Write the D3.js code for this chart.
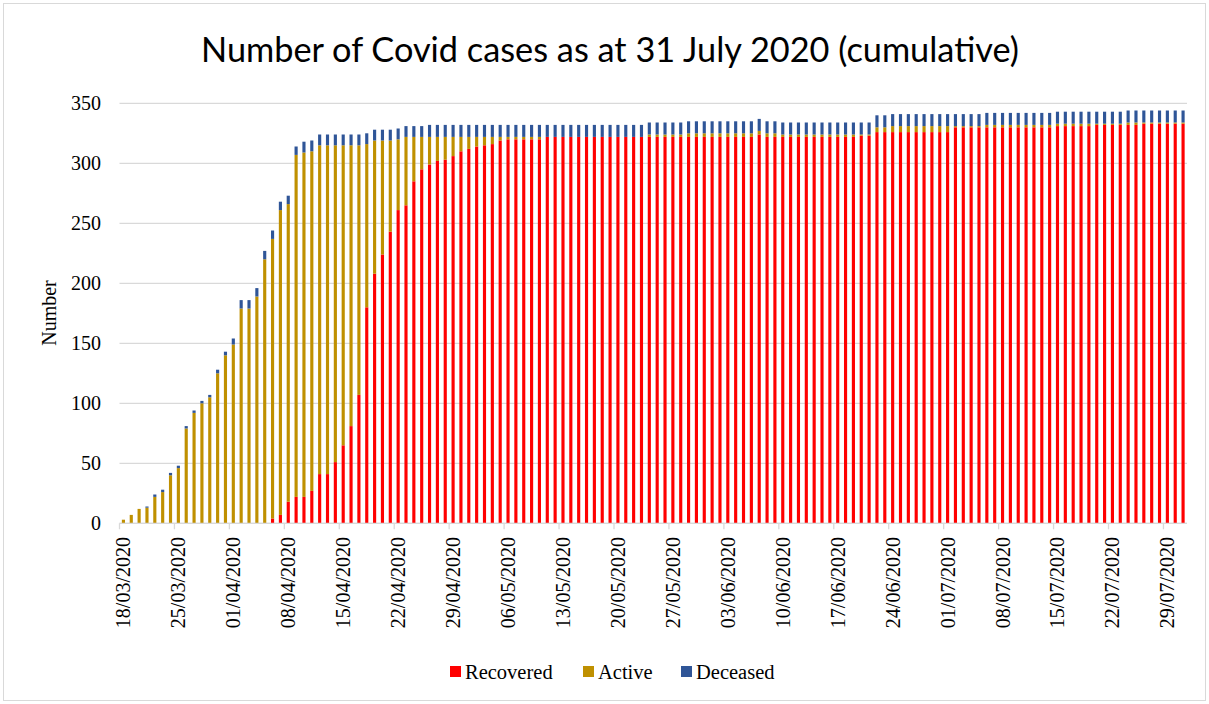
<!DOCTYPE html>
<html>
<head>
<meta charset="utf-8">
<script src="https://cdn.jsdelivr.net/npm/d3@7"></script>
<style>
body { margin: 0; background: #fff; }
svg text { font-family: "Liberation Serif", "Times New Roman", serif; fill: #000; }
</style>
</head>
<body>
<div id="chart"></div>
<script>
// categories: one bar per day, 18/03/2020 .. 31/07/2020
const days = d3.timeDay.range(new Date(2020, 2, 18), new Date(2020, 7, 1));

// series values (cumulative)
const recovered = [
  0,0,0,0,0,0,0,0,0,0,0,0,0,0,0,0,0,0,0,
  4,7,18,22,22,27,41,41,51,65,81,107,180,208,224,243,261,265,285,295,
  299,302,303,306,310,312,314,315,316,319,
  320,320,320,320,320,
  322,322,322,322,322,322,322,322,322,322,322,322,322,322,322,322,322,322,322,322,322,322,322,322,322,322,322,
  324,
  322,322,322,322,322,322,322,322,322,322,322,322,
  323,323,
  326,326,326,326,326,326,326,326,326,326,
  330,330,330,330,330,330,330,330,330,330,330,330,330,
  331,331,331,331,331,
  332,332,332,332,332,332,
  333,333,333,333,333,333
];
const active = [
  3,7,12,13,22,26,40,46,79,92,100,105,125,140,149,179,179,189,220,
  233,254,248,285,287,283,274,274,264,250,234,208,136,111,95,76,59,57,37,27,
  23,20,19,16,12,10,8,7,6,3,
  2,2,2,2,2,
  0,0,0,0,0,0,0,0,0,0,0,0,0,
  2,2,2,2,2,
  3,3,3,3,3,3,3,3,3,
  3,
  3,3,
  2,2,2,2,2,2,2,2,2,2,
  1,1,
  4,4,
  5,5,5,5,5,5,5,5,
  1,1,1,1,
  2,2,2,2,2,2,2,2,2,
  2,2,2,2,2,
  1,1,1,1,
  2,2,
  1,1,1,1,1,1
];
const deceased = [
  0,0,0,1,2,2,2,2,2,2,2,2,3,3,5,7,7,7,7,7,7,7,7,
  9,9,9,9,9,9,9,9,9,9,9,9,9,9,9,9,
  10,10,10,10,10,10,10,10,10,10,10,10,10,10,10,10,10,10,10,10,10,10,10,10,10,10,10,10,10,10,10,
  10,10,10,10,10,10,10,10,10,10,10,10,10,10,10,10,10,10,10,10,10,10,10,10,10,10,10,10,10,10,10,
  10,10,10,10,10,10,10,10,10,10,10,10,10,10,10,10,10,10,10,10,10,10,10,10,10,10,10,10,10,10,10,
  10,10,10,10
];

const yTicks = [0, 50, 100, 150, 200, 250, 300, 350];
const seriesNames = ["Recovered", "Active", "Deceased"];
const seriesColors = ["#ff0000", "#bf9000", "#2f5597"];

const width = 1209, height = 704;
const plotLeft = 119.5, plotRight = 1187, plotTop = 103.3, plotBottom = 523.3;

const svg = d3.select("#chart").append("svg")
  .attr("width", width)
  .attr("height", height);

// chart area border
svg.append("rect")
  .attr("x", 3.5).attr("y", 3.5)
  .attr("width", width - 7).attr("height", height - 7)
  .attr("fill", "#fff")
  .attr("stroke", "#d9d9d9");

svg.append("text")
  .attr("x", 610).attr("y", 62)
  .attr("text-anchor", "middle")
  .attr("textLength", 818)
  .attr("lengthAdjust", "spacingAndGlyphs")
  .style("font-family", "'Liberation Sans Narrow', Lato, sans-serif")
  .style("font-size", "34px")
  .text("Number of Covid cases as at 31 July 2020 (cumulative)");

const rows = days.map((d, i) => ({
  date: d,
  Recovered: recovered[i],
  Active: active[i],
  Deceased: deceased[i]
}));

const x = d3.scaleBand()
  .domain(days.map(d => +d))
  .range([plotLeft, plotRight])
  .paddingInner(0.6)
  .paddingOuter(0.3);

const y = d3.scaleLinear().domain([0, 350]).range([plotBottom, plotTop]);

// gridlines
svg.append("g")
  .selectAll("line")
  .data(yTicks)
  .enter().append("line")
  .attr("x1", plotLeft).attr("x2", plotRight)
  .attr("y1", d => y(d)).attr("y2", d => y(d))
  .attr("stroke", "#d9d9d9")
  .attr("stroke-width", 1.3);

// y tick labels
svg.append("g")
  .selectAll("text")
  .data(yTicks)
  .enter().append("text")
  .attr("x", 101)
  .attr("y", d => y(d))
  .attr("dy", "0.35em")
  .attr("text-anchor", "end")
  .style("font-size", "20px")
  .text(d => d);

svg.append("text")
  .attr("transform", "translate(56,313) rotate(-90)")
  .attr("text-anchor", "middle")
  .style("font-size", "20px")
  .text("Number");

// stacked bars
const stack = d3.stack().keys(seriesNames)(rows);
const color = d3.scaleOrdinal().domain(seriesNames).range(seriesColors);

svg.append("g")
  .selectAll("g")
  .data(stack)
  .enter().append("g")
  .attr("fill", d => color(d.key))
  .selectAll("rect")
  .data(d => d)
  .enter().append("rect")
  .attr("x", d => x(+d.data.date))
  .attr("width", x.bandwidth())
  .attr("y", d => y(d[1]))
  .attr("height", d => y(d[0]) - y(d[1]));

// x axis line + tick marks between categories, every 7 days
svg.append("line")
  .attr("x1", plotLeft).attr("x2", plotRight)
  .attr("y1", plotBottom).attr("y2", plotBottom)
  .attr("stroke", "#d9d9d9")
  .attr("stroke-width", 1.3);

const weekly = days.filter((d, i) => i % 7 === 0);
const step = x.step();

svg.append("g")
  .selectAll("line")
  .data(weekly)
  .enter().append("line")
  .attr("x1", d => x(+d) + x.bandwidth() / 2 - step / 2)
  .attr("x2", d => x(+d) + x.bandwidth() / 2 - step / 2)
  .attr("y1", plotBottom).attr("y2", plotBottom + 6)
  .attr("stroke", "#d9d9d9")
  .attr("stroke-width", 1.3);

const fmt = d3.timeFormat("%d/%m/%Y");
svg.append("g")
  .selectAll("text")
  .data(weekly)
  .enter().append("text")
  .attr("transform", d => `translate(${x(+d) + x.bandwidth() / 2},537) rotate(-90)`)
  .attr("dy", "0.35em")
  .attr("text-anchor", "end")
  .style("font-size", "20px")
  .text(d => fmt(d));

// legend
const legendX = [450, 583, 681];
const legend = svg.append("g")
  .selectAll("g")
  .data(seriesNames)
  .enter().append("g")
  .attr("transform", (d, i) => `translate(${legendX[i]},666)`);

legend.append("rect")
  .attr("width", 11).attr("height", 11)
  .attr("fill", d => color(d));

legend.append("text")
  .attr("x", 15).attr("y", 5.5)
  .attr("dy", "0.35em")
  .style("font-size", "20.5px")
  .text(d => d);
</script>
</body>
</html>
